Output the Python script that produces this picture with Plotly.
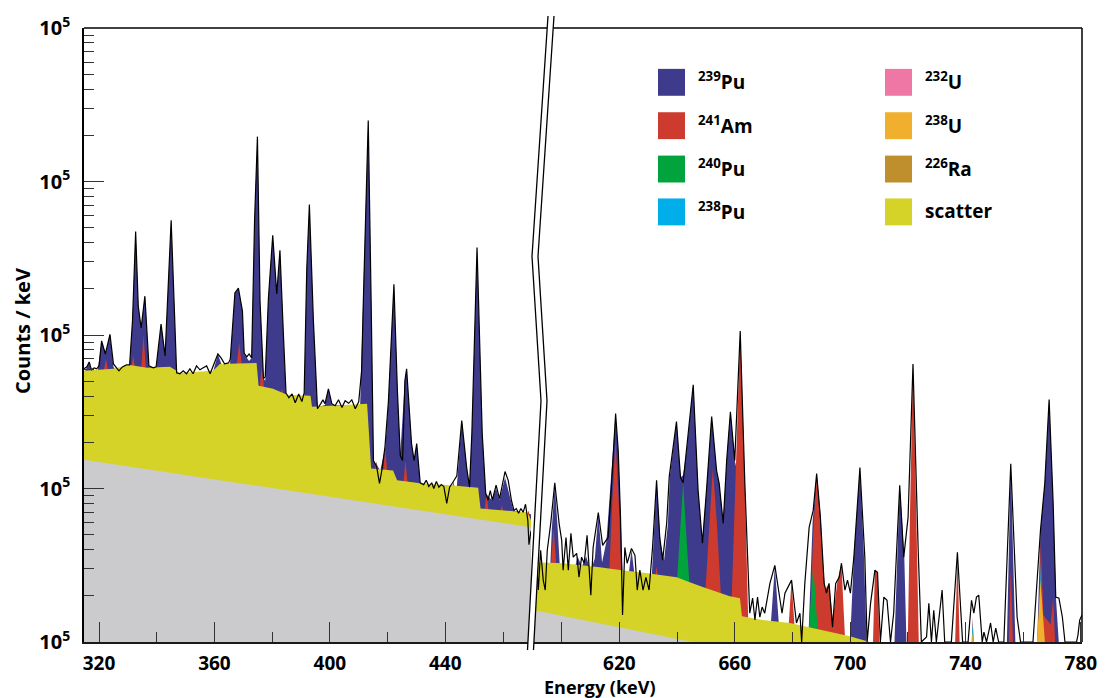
import plotly.graph_objects as go

# ---------------- axis ranges (keV) ----------------
left_range = [314.8, 469.7]
right_range = [590.4, 780.4]

# ---------------- LEFT PANEL DATA (counts / keV) ----------------
left_bg_energy = [314.8, 469.7]
left_bg_counts = [15.4, 5.6]

left_scatter_energy = [314.8, 324.9, 330.7, 336.6, 344.6, 348.1, 359.5, 361.9, 374.6, 375.3, 380.3, 385.2,
                       393.3, 393.8, 412.9, 414.3, 421.9, 423.3, 431.3, 441.7, 451.4, 452.2, 468.4, 469.7]
left_scatter_counts = [58.4, 60.2, 63.8, 61.1, 62.0, 56.6, 58.4, 64.8, 65.8, 46.7, 44.6, 40.8,
                       40.2, 34.1, 35.6, 13.5, 13.1, 11.3, 10.8, 10.5, 10.1, 7.4, 7.0, 6.2]

left_pu239_energy = [314.8, 316.0, 316.6, 317.3, 319.6, 320.9, 322.3, 323.8, 325.0, 326.0,
                     330.6, 331.6, 332.7, 333.6, 334.6, 335.9, 337.3, 339.8, 341.5, 342.9,
                     345.0, 346.9, 359.6, 361.2, 362.5, 365.4, 367.1, 368.3, 369.7, 370.3,
                     372.0, 372.9, 373.9, 374.9, 375.8, 377.0, 377.6, 378.7, 380.2, 381.6,
                     382.7, 383.9, 384.8, 391.1, 392.0, 392.9, 394.3, 395.7, 398.3, 399.5,
                     400.7, 410.5, 411.6, 413.3, 414.3, 415.1, 417.5, 419.2, 420.3, 422.2,
                     423.4, 424.4, 426.0, 426.6, 428.3, 429.2, 430.1, 431.3, 444.0, 445.7,
                     447.4, 448.4, 449.2, 451.0, 452.8, 454.0, 456.1, 457.6, 458.8, 460.7,
                     463.6, 469.7]
left_pu239_counts = [56, 62, 66.8, 59.3, 59, 91.5, 75.2, 101, 62, 58,
                     62, 123, 473, 154, 111, 179, 62, 61, 118, 73.1,
                     558, 55, 58, 75.2, 63.8, 64.8, 188, 202, 143, 75.2,
                     67.8, 70.9, 550, 1960, 166, 52, 50.3, 173, 446, 185,
                     356, 101, 40, 39, 271, 709, 123, 33.7, 35, 44.6,
                     35, 35, 166, 2450, 166, 15.2, 13.1, 18.5, 37.3, 214,
                     43.3, 16.9, 50.3, 60.2, 19.6, 15.2, 19.6, 10.5, 10.3, 27.7,
                     13.7, 10.3, 22.7, 362, 22.7, 9.3, 8.4, 10.0, 8.4, 11.8,
                     7.2, 6.8]

left_am241_energy = [314.8, 321.5, 322.4, 323.3, 326.5, 331.1, 331.9, 332.5, 333.8, 334.6,
                     335.4, 336.3, 340.0, 367.6, 368.6, 369.6, 372.0, 375.6, 376.4, 377.3,
                     380.0, 382.8, 383.4, 384.0, 400.0, 415.4, 416.2, 417.1, 418.4, 419.2,
                     420.0, 422.0, 425.4, 426.2, 427.0, 430.0, 442.2, 442.8, 443.4, 448.0,
                     453.5, 454.3, 455.1, 457.0, 458.9, 459.6, 460.3, 463.0, 468.2, 468.9,
                     469.7]
left_am241_counts = [0.5, 56, 70, 56, 0.5, 60, 73, 60, 0.5, 58,
                     101, 58, 0.5, 61, 89, 61, 0.5, 43, 63, 43,
                     0.5, 39, 45, 39, 0.5, 12.5, 15.0, 12.0, 12.0, 18.5,
                     12.0, 0.5, 10.5, 15.2, 10.5, 0.5, 9.8, 11.1, 9.8, 0.5,
                     6.9, 9.3, 6.9, 0.5, 6.8, 7.8, 6.8, 0.5, 6.6, 7.2,
                     6.0]

left_measured_energy = [314.8, 315.8, 316.6, 317.4, 318.3, 319.2, 320.0, 320.9, 322.2, 323.8,
                        325.0, 325.9, 326.9, 328.1, 329.5, 330.6, 331.6, 332.7, 333.6, 334.6,
                        335.9, 337.3, 338.8, 339.8, 341.5, 342.9, 345.0, 346.9, 348.0, 349.2,
                        350.3, 351.5, 352.6, 353.8, 355.0, 356.1, 357.3, 358.5, 359.6, 361.2,
                        362.3, 363.5, 364.9, 365.5, 367.1, 368.3, 369.7, 370.3, 371.2, 372.0,
                        372.9, 373.9, 374.9, 375.8, 377.0, 377.6, 378.7, 380.2, 381.6, 382.7,
                        383.9, 384.8, 385.8, 386.9, 388.0, 389.2, 390.3, 391.1, 392.0, 392.9,
                        394.3, 395.7, 396.8, 397.6, 398.3, 399.5, 400.7, 401.8, 403.0, 404.2,
                        405.3, 406.5, 407.6, 408.8, 410.0, 411.0, 411.6, 413.3, 414.3, 415.1,
                        416.2, 417.2, 418.0, 419.1, 420.3, 422.2, 423.4, 424.4, 425.2, 426.0,
                        426.6, 428.3, 429.2, 430.1, 431.3, 432.5, 433.4, 434.3, 435.3, 436.0,
                        436.9, 437.8, 438.6, 439.5, 440.5, 441.5, 442.8, 444.0, 445.7, 447.4,
                        448.4, 449.2, 451.0, 452.8, 454.0, 454.8, 455.6, 456.3, 457.6, 458.8,
                        460.7, 461.8, 462.9, 463.8, 464.6, 465.4, 466.2, 467.0, 467.8, 468.6,
                        469.0, 469.7]
left_measured_counts = [60.2, 62.0, 66.8, 59.3, 61.1, 60.2, 62.9, 91.5, 75.2, 101,
                        64.8, 61.1, 58.4, 62.0, 63.8, 63.8, 123, 473, 154, 111,
                        179, 62.9, 61.1, 62.0, 118, 73.1, 558, 56.7, 55.9, 58.4,
                        55.9, 60.2, 55.9, 62.9, 59.3, 61.1, 62.9, 55.9, 62.9, 75.2,
                        70.9, 64.8, 65.8, 69.8, 188, 202, 143, 76.3, 72.0, 75.2,
                        70.9, 550, 1960, 166, 52.0, 53.4, 173, 446, 185, 356,
                        101, 41.9, 39.0, 41.3, 36.2, 41.3, 36.8, 41.9, 271, 709,
                        123, 33.1, 35.6, 37.8, 35.6, 44.6, 35.6, 34.6, 37.8, 33.7,
                        37.3, 35.9, 37.8, 33.1, 36.7, 58.4, 166, 2500, 166, 15.2,
                        13.9, 10.8, 13.1, 18.7, 37.3, 214, 43.3, 16.4, 15.2, 50.3,
                        60.2, 19.6, 15.2, 19.6, 10.9, 10.6, 11.3, 10.3, 10.9, 10.0,
                        11.1, 10.2, 10.6, 10.3, 8.0, 10.2, 11.1, 12.1, 27.7, 13.7,
                        10.2, 22.7, 372, 22.7, 9.3, 8.4, 9.7, 8.4, 10.5, 8.6,
                        12.9, 11.3, 8.4, 7.2, 7.4, 6.9, 7.4, 7.0, 7.9, 6.2,
                        4.3, 5.3]

# ---------------- RIGHT PANEL DATA (counts / keV) ----------------
right_bg_energy = [590.4, 780.4]
right_bg_counts = [1.61, 0.31]

right_scatter_energy = [590.4, 600.4, 613.2, 620.2, 627.1, 634.0, 639.9, 644.4, 648.9, 658.3,
                        661.8, 662.5, 669.7, 679.1, 690.5, 699.9, 706.8, 712.0, 780.4]
right_scatter_counts = [3.31, 3.26, 3.07, 2.94, 2.85, 2.72, 2.64, 2.45, 2.28, 1.99,
                        1.93, 1.47, 1.39, 1.33, 1.20, 1.09, 1.0, 0.9, 0.5]

right_pu239_energy = [590.4, 596.0, 596.6, 597.6, 598.6, 599.4, 604.5, 605.5, 607.0, 608.5,
                      610.0, 611.5, 612.7, 614.0, 615.5, 616.8, 618.7, 619.6, 620.4, 621.2,
                      623.2, 624.2, 625.3, 631.2, 632.9, 634.2, 635.5, 636.8, 637.5, 639.8,
                      641.2, 642.1, 643.3, 645.6, 647.3, 648.7, 650.2, 652.0, 653.7, 654.6,
                      656.0, 657.2, 658.5, 660.0, 661.2, 663.0, 664.6, 672.5, 673.9, 675.3,
                      685.6, 687.0, 688.4, 689.8, 691.0, 692.0, 700.0, 701.3, 703.4, 704.8,
                      705.8, 715.3, 717.2, 718.8, 719.6, 754.3, 755.7, 757.3, 764.8, 766.0,
                      767.5, 769.0, 770.4, 771.4, 772.5, 780.4]
right_pu239_counts = [3.0, 3.0, 5.5, 10.6, 5.5, 3.0, 3.0, 3.6, 3.1, 3.6,
                      2.9, 3.5, 6.9, 3.3, 4.5, 10.0, 30.5, 17.5, 6.4, 2.7,
                      2.7, 4.0, 2.7, 2.6, 11.2, 4.5, 3.4, 5.8, 12.0, 27.3,
                      11.8, 12.2, 17.7, 47.4, 9.7, 4.5, 9.7, 29.4, 13.1, 10.8,
                      6.0, 15.2, 31.6, 15.2, 12.0, 5.0, 1.3, 1.3, 3.1, 1.3,
                      1.15, 6.0, 12.5, 6.5, 2.2, 1.1, 1.0, 3.6, 13.7, 3.6,
                      0.9, 0.9, 10.5, 3.5, 0.9, 0.9, 14.5, 1.0, 0.9, 5.3,
                      10.8, 38.0, 8.0, 1.9, 0.9, 0.5]

right_am241_energy = [590.4, 596.2, 597.2, 598.2, 600.0, 616.5, 617.5, 618.7, 619.8, 620.8,
                      623.0, 632.4, 632.9, 633.4, 636.0, 649.8, 651.0, 652.4, 653.8, 655.2,
                      657.0, 658.9, 660.3, 661.9, 663.5, 664.7, 670.0, 678.6, 679.7, 680.8,
                      684.0, 686.0, 687.2, 688.4, 689.7, 691.3, 692.7, 694.0, 695.6, 697.0,
                      698.3, 707.8, 708.6, 709.5, 710.3, 719.9, 720.7, 721.8, 723.0, 723.9,
                      736.3, 737.2, 738.1, 742.0, 742.5, 743.0, 754.9, 755.7, 756.6, 765.3,
                      766.1, 767.0, 769.5, 770.4, 771.3, 780.4]
right_am241_counts = [0.5, 3.0, 5.5, 3.0, 0.5, 2.8, 8.0, 20.5, 8.0, 2.7,
                      0.5, 2.6, 3.1, 2.6, 0.5, 2.1, 5.0, 13.5, 6.0, 2.0,
                      0.5, 1.8, 14.0, 106, 11.0, 1.3, 0.5, 1.2, 2.53, 1.2,
                      0.5, 1.1, 5.0, 12.5, 5.5, 2.2, 2.4, 1.4, 2.5, 3.2,
                      1.0, 0.8, 2.9, 2.85, 0.8, 0.8, 6.0, 64.8, 6.0, 0.8,
                      0.8, 3.84, 0.8, 0.8, 1.45, 0.8, 0.8, 3.0, 0.8, 0.8,
                      4.6, 1.5, 1.3, 1.93, 0.8, 0.5]

right_pu240_energy = [638.5, 639.9, 642.1, 644.4, 646.0, 684.5, 685.6, 687.2, 688.9, 690.0]
right_pu240_counts = [0.5, 2.4, 10.8, 2.2, 0.5, 0.5, 1.15, 3.16, 1.1, 0.5]

right_pu238_energy = [741.9, 742.5, 743.1, 765.4, 766.0, 766.7]
right_pu238_counts = [0.8, 1.35, 0.8, 0.8, 3.4, 0.8]

right_u238_energy = [741.7, 742.5, 743.3, 764.5, 766.0, 767.9]
right_u238_counts = [0.8, 1.16, 0.8, 0.8, 2.53, 0.8]

right_measured_energy = [590.6, 591.1, 591.9, 592.7, 593.6, 594.3, 595.0, 596.2, 597.6, 599.1,
                         600.0, 600.5, 601.5, 602.3, 603.2, 604.0, 605.2, 606.0, 606.9, 607.8,
                         608.8, 610.1, 610.9, 612.7, 614.2, 616.1, 617.3, 618.7, 619.6, 620.4,
                         621.1, 621.9, 622.7, 624.2, 625.4, 626.2, 627.1, 628.2, 629.2, 630.3,
                         631.5, 632.9, 634.0, 635.0, 636.4, 637.3, 639.8, 641.2, 642.1, 643.3,
                         645.6, 647.3, 648.8, 650.2, 652.0, 653.7, 654.6, 656.0, 657.2, 658.5,
                         660.0, 661.9, 663.5, 665.2, 666.2, 667.0, 667.9, 668.7, 669.5, 670.4,
                         672.2, 673.9, 675.4, 676.4, 677.4, 679.7, 681.4, 682.6, 683.2, 684.3,
                         685.8, 687.2, 688.4, 689.7, 691.0, 691.8, 692.7, 693.9, 695.0, 696.2,
                         697.0, 698.2, 699.1, 700.1, 701.3, 703.4, 705.1, 705.9, 707.1, 708.6,
                         709.5, 710.5, 711.7, 712.8, 714.0, 715.1, 717.2, 718.6, 720.1, 721.8,
                         723.6, 724.7, 726.5, 727.3, 728.2, 729.0, 729.9, 731.9, 732.8, 735.1,
                         737.2, 739.0, 740.9, 742.1, 742.9, 743.8, 744.6, 745.8, 746.4, 747.3,
                         748.7, 749.6, 750.5, 751.5, 753.3, 755.7, 757.9, 759.1, 763.4, 765.2,
                         766.0, 767.5, 769.0, 770.4, 771.3, 772.4, 773.6, 774.5, 778.5, 779.0,
                         779.6, 780.4]
right_measured_counts = [3.4, 3.96, 2.18, 3.96, 2.53, 2.18, 3.96, 5.93, 10.9, 5.93,
                         4.59, 2.94, 4.8, 2.94, 5.1, 3.57, 3.78, 2.64, 3.57, 3.26,
                         4.95, 2.02, 4.13, 6.98, 4.26, 4.8, 10.8, 30.8, 17.7, 6.48,
                         1.5, 4.13, 3.26, 4.07, 3.67, 2.18, 2.94, 2.18, 2.64, 2.18,
                         4.13, 11.3, 4.8, 3.41, 5.93, 12.0, 27.3, 11.8, 10.9, 17.7,
                         47.4, 9.71, 4.4, 9.71, 29.4, 13.1, 10.8, 5.93, 15.2, 31.6,
                         15.2, 106, 10.8, 1.54, 1.93, 1.39, 1.96, 1.45, 1.69, 1.54,
                         2.41, 3.16, 2.08, 1.54, 2.08, 2.53, 1.33, 1.54, 1.0, 2.41,
                         5.58, 7.2, 12.5, 6.48, 2.41, 2.08, 2.41, 1.25, 2.41, 2.64,
                         3.26, 2.18, 2.53, 2.08, 3.57, 13.7, 3.57, 1.0, 1.79, 2.94,
                         2.85, 1.0, 1.96, 1.87, 1.0, 1.54, 10.5, 3.57, 6.48, 64.8,
                         3.96, 1.0, 1.08, 1.79, 1.0, 1.61, 1.0, 2.18, 1.0, 1.0,
                         3.84, 1.0, 1.0, 1.87, 1.54, 1.96, 2.02, 1.0, 1.16, 1.0,
                         1.33, 1.0, 1.23, 1.0, 1.0, 14.5, 1.45, 1.0, 1.0, 3.57,
                         5.34, 10.8, 38.0, 8.0, 1.96, 1.93, 1.45, 1.0, 1.0, 1.11,
                         1.39, 1.5]

# ---------------- ticks / legend ----------------
left_major_ticks = [320, 360, 400, 440]
left_minor_ticks = [340, 380, 420, 460]
right_major_ticks = [600, 620, 660, 700, 740, 780]
right_major_labels = ["", "620", "660", "700", "740", "780"]
right_minor_ticks = [640, 680, 720, 760]
y_major_ticks = [1, 10, 100, 1000, 10000]
y_tick_label = "10<sup>5</sup>"

legend_labels = ["<sup>239</sup>Pu", "<sup>241</sup>Am", "<sup>240</sup>Pu", "<sup>238</sup>Pu",
                 "<sup>232</sup>U", "<sup>238</sup>U", "<sup>226</sup>Ra", "scatter"]

# ---------------- styles ----------------
C_PU239 = "#3e3a8c"
C_AM241 = "#cd3b2e"
C_PU240 = "#00a33c"
C_PU238 = "#00aeea"
C_U232 = "#ee77a5"
C_U238 = "#f0b02e"
C_RA226 = "#be8f2c"
C_SCAT = "#d5d328"
C_BG = "#cbcbcd"
legend_colors = [C_PU239, C_AM241, C_PU240, C_PU238, C_U232, C_U238, C_RA226, C_SCAT]

FONT = "Open Sans"
W, H = 1113, 698
PL, PR, PT, PB = 84, 1082, 26, 642     # plot area in pixels
FLOOR = 0.1


def px(x):
    return (x - PL) / (PR - PL)


def py(y):
    return (PB - y) / (PB - PT)


for e, c in [(left_bg_energy, left_bg_counts), (left_scatter_energy, left_scatter_counts),
             (left_pu239_energy, left_pu239_counts), (left_am241_energy, left_am241_counts),
             (left_measured_energy, left_measured_counts), (right_scatter_energy, right_scatter_counts),
             (right_pu239_energy, right_pu239_counts), (right_am241_energy, right_am241_counts),
             (right_pu240_energy, right_pu240_counts), (right_pu238_energy, right_pu238_counts),
             (right_u238_energy, right_u238_counts), (right_measured_energy, right_measured_counts)]:
    assert len(e) == len(c), (len(e), len(c))


def area(energy, counts, color, xa, ya):
    xs = list(energy) + [energy[-1], energy[0]]
    ys = list(counts) + [FLOOR, FLOOR]
    return go.Scatter(x=xs, y=ys, fill="toself", fillcolor=color, mode="lines",
                      line=dict(width=0, color=color), xaxis=xa, yaxis=ya,
                      hoverinfo="skip", showlegend=False)


def measured(energy, counts, xa, ya):
    return go.Scatter(x=energy, y=counts, mode="lines", line=dict(color="black", width=1.2),
                      xaxis=xa, yaxis=ya, hoverinfo="skip", showlegend=False)


fig = go.Figure()
# left panel (painter order: top of stack first)
fig.add_trace(area(left_pu239_energy, left_pu239_counts, C_PU239, "x", "y"))
fig.add_trace(area(left_am241_energy, left_am241_counts, C_AM241, "x", "y"))
fig.add_trace(area(left_scatter_energy, left_scatter_counts, C_SCAT, "x", "y"))
fig.add_trace(area(left_bg_energy, left_bg_counts, C_BG, "x", "y"))
fig.add_trace(measured(left_measured_energy, left_measured_counts, "x", "y"))
# right panel
fig.add_trace(area(right_pu239_energy, right_pu239_counts, C_PU239, "x2", "y2"))
fig.add_trace(area(right_am241_energy, right_am241_counts, C_AM241, "x2", "y2"))
fig.add_trace(area(right_pu240_energy, right_pu240_counts, C_PU240, "x2", "y2"))
fig.add_trace(area(right_pu238_energy, right_pu238_counts, C_PU238, "x2", "y2"))
fig.add_trace(area(right_u238_energy, right_u238_counts, C_U238, "x2", "y2"))
fig.add_trace(area(right_scatter_energy, right_scatter_counts, C_SCAT, "x2", "y2"))
fig.add_trace(area(right_bg_energy, right_bg_counts, C_BG, "x2", "y2"))
fig.add_trace(measured(right_measured_energy, right_measured_counts, "x2", "y2"))

tick_font = dict(family=FONT, size=19, color="black", weight="bold")
tick_style = dict(ticks="inside", ticklen=20, tickwidth=1.3, tickcolor="#333333",
                  showgrid=False, zeroline=False, fixedrange=True, tickfont=tick_font)
minor_style = dict(ticks="inside", ticklen=10, tickwidth=1.3, tickcolor="#333333", showgrid=False)

y_minor = [m * d for d in [1, 10, 100, 1000] for m in range(2, 10)]

fig.update_layout(
    width=W, height=H, autosize=False,
    margin=dict(l=PL, r=W - PR, t=PT, b=H - PB, pad=0),
    paper_bgcolor="white", plot_bgcolor="white", showlegend=False,
    xaxis=dict(domain=[0, px(531)], range=left_range, anchor="y",
               showline=True, linecolor="#1a1a1a", linewidth=2,
               tickvals=left_major_ticks, ticktext=[str(v) for v in left_major_ticks],
               minor=dict(tickvals=left_minor_ticks, **minor_style), ticklabelstandoff=3, **tick_style),
    xaxis2=dict(domain=[px(534), 1], range=right_range, anchor="y2",
                showline=True, linecolor="#1a1a1a", linewidth=2,
                tickvals=right_major_ticks, ticktext=right_major_labels,
                minor=dict(tickvals=right_minor_ticks, **minor_style), ticklabelstandoff=3, **tick_style),
    yaxis=dict(type="log", range=[0, 4], anchor="x", showline=True, linecolor="black", linewidth=1.5,
               tickvals=y_major_ticks, ticktext=[y_tick_label] * len(y_major_ticks),
               minor=dict(tickvals=y_minor, **minor_style), ticklabelstandoff=8,
               **{**tick_style, "tickfont": dict(family=FONT, size=20, color="black", weight="bold")}),
    yaxis2=dict(type="log", range=[0, 4], anchor="x2", matches="y", showline=False,
                showticklabels=False, ticks="", showgrid=False, zeroline=False, fixedrange=True),
)

shapes = []
# top and right frame
shapes.append(dict(type="line", xref="paper", yref="paper", x0=0, x1=1, y0=1, y1=1,
                   line=dict(color="black", width=1.5)))
shapes.append(dict(type="line", xref="paper", yref="paper", x0=1, x1=1, y0=0, y1=1,
                   line=dict(color="black", width=1.5)))

# axis break (two parallel zig-zag lines with white between)
brk_left = [(548, 14), (532, 255), (541, 400), (527.5, 650)]
brk_right = [(x + 6, y) for x, y in brk_left]


def path(points, close=False):
    s = "M " + " L ".join(f"{px(x):.5f},{py(y):.5f}" for x, y in points)
    return s + (" Z" if close else "")


shapes.append(dict(type="path", xref="paper", yref="paper", path=path(brk_left + brk_right[::-1], True),
                   fillcolor="white", line=dict(width=0)))
for pts in (brk_left, brk_right):
    shapes.append(dict(type="path", xref="paper", yref="paper", path=path(pts),
                       line=dict(color="black", width=1.3)))

# legend squares
annotations = []
SQ = 27
col_x = [658, 885]
row_y = [67, 110.5, 154, 197]
for i, (lab, col) in enumerate(zip(legend_labels, legend_colors)):
    cx = col_x[i // 4]
    ry = row_y[i % 4]
    shapes.append(dict(type="rect", xref="paper", yref="paper", x0=px(cx), x1=px(cx + SQ),
                       y0=py(ry + SQ), y1=py(ry), fillcolor=col, line=dict(width=0)))
    annotations.append(dict(x=px(cx + SQ + 11), y=py(ry + SQ / 2 - 1), xref="paper", yref="paper",
                            text=lab, showarrow=False, xanchor="left", yanchor="middle",
                            font=dict(family=FONT, size=19, color="black", weight="bold")))

annotations.append(dict(x=px(600), y=py(687), xref="paper", yref="paper", text="Energy (keV)",
                        showarrow=False, xanchor="center", yanchor="middle",
                        font=dict(family=FONT, size=18, color="black", weight="bold")))
annotations.append(dict(x=px(22), y=py(330), xref="paper", yref="paper", text="Counts / keV",
                        showarrow=False, xanchor="center", yanchor="middle", textangle=-90,
                        font=dict(family=FONT, size=20, color="black", weight="bold")))

fig.update_layout(shapes=shapes, annotations=annotations)
fig.write_html("out.html")
